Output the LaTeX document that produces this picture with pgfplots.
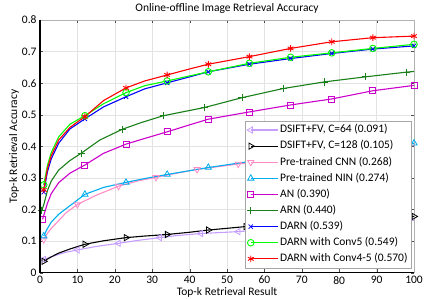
\documentclass[border=0pt]{standalone}
\usepackage{pgfplots}
\pgfplotsset{compat=1.18}
\usepackage{fontspec}
\setmainfont{Carlito}
\definecolor{lav}{rgb}{0.78,0.62,1}
\definecolor{pinkc}{rgb}{1,0.55,0.78}
\definecolor{magc}{rgb}{0.8,0,0.8}
\definecolor{dgreen}{rgb}{0.1,0.5,0.1}
\begin{document}
\begin{tikzpicture}
\begin{axis}[
  name=ax,
  scale only axis,
  width=374bp, height=252.7bp,
  xmin=0, xmax=100, ymin=0, ymax=0.8,
  xtick={0,10,...,100},
  ytick={0,0.1,...,0.8},
  yticklabel style={/pgf/number format/fixed,/pgf/number format/precision=1},
  /pgf/number format/assume math mode=true,
  font=\fontsize{11.5bp}{13.8bp}\selectfont,
  title={Online-offline Image Retrieval Accuracy},
  title style={yshift=-3bp},
  xlabel={Top-k Retrieval Result},
  ylabel={Top-k Retrieval Accuracy},
  xlabel style={yshift=3bp},
  ylabel style={yshift=-4bp},
  grid=major,
  major grid style={gray!22},
  axis line style={gray!60},
  tick align=inside,
  major tick length=3.5bp,
  tick style={black!70},
  every axis plot/.append style={line width=1.1bp},
  mark size=3.6bp,
  legend style={at={(1,0)}, anchor=south east, xshift=-3bp, yshift=4.7bp,
    draw=gray!70, fill=white, cells={anchor=west},
    font=\fontsize{11.5bp}{13.8bp}\selectfont,
    nodes={inner sep=1.8bp, text height=8.5bp, text depth=2.8bp},
    row sep=1.2bp, column sep=0bp, inner sep=1.5bp},
  legend image code/.code={\draw[mark repeat=2,mark phase=2] plot coordinates {(0bp,0bp) (13.5bp,0bp) (27bp,0bp)};},
]
% DSIFT+FV C=64
\addplot[color=lav, mark=triangle, mark options={rotate=90, solid, line width=0.8bp}, mark indices={1,5,7,9,11,12,13,14,15,16}] coordinates {
(1,0.042) (3,0.05) (5,0.058) (7,0.065) (10,0.072) (15,0.083) (21,0.093) (26,0.102) (32,0.111) (37,0.118) (43,0.124) (53,0.130) (64,0.140) (75,0.149) (86,0.157) (97,0.164) (100,0.166)};
\addlegendentry{DSIFT+FV, C=64 (0.091)}
% DSIFT+FV C=128
\addplot[color=black, mark=triangle, mark options={rotate=-90, solid, line width=0.8bp}, mark indices={1,5,7,9,11,12,13,14,15,16}] coordinates {
(1,0.036) (3,0.05) (5,0.062) (8,0.075) (12,0.090) (17,0.101) (23,0.111) (28,0.116) (34,0.121) (40,0.128) (45,0.135) (55,0.146) (67,0.155) (78,0.163) (89,0.171) (100,0.178)};
\addlegendentry{DSIFT+FV, C=128 (0.105)}
% Pre-trained CNN
\addplot[color=pinkc, mark=triangle, mark options={rotate=180, solid, line width=0.8bp}, mark indices={1,6,8,10,12,13,14,15,16,17}] coordinates {
(1,0.105) (2,0.125) (3,0.14) (5,0.165) (7,0.19) (10,0.216) (15,0.245) (21,0.274) (26,0.29) (31,0.302) (37,0.316) (42,0.327) (53,0.344) (64,0.36) (75,0.375) (86,0.389) (97,0.400) (100,0.403)};
\addlegendentry{Pre-trained CNN (0.268)}
% Pre-trained NIN
\addplot[color=cyan, mark=triangle, mark options={solid, line width=0.8bp}, mark indices={1,6,8,10,12,13,14,15,16,17}] coordinates {
(1,0.116) (2,0.14) (3,0.16) (5,0.185) (8,0.212) (12,0.248) (17,0.27) (23,0.286) (28,0.298) (34,0.311) (40,0.323) (45,0.333) (56,0.352) (67,0.368) (78,0.382) (89,0.396) (100,0.410)};
\addlegendentry{Pre-trained NIN (0.274)}
% AN
\addplot[color=magc, mark=square, mark size=3bp, mark options={solid, line width=0.8bp}, mark indices={1,6,8,10,12,13,14,15,16,17}] coordinates {
(0.7,0.169) (2,0.22) (3,0.25) (5,0.285) (8,0.315) (12,0.341) (17,0.378) (23,0.407) (28,0.425) (34,0.446) (40,0.468) (45,0.486) (56,0.509) (67,0.531) (78,0.550) (89,0.576) (100,0.593)};
\addlegendentry{AN (0.390)}
% ARN
\addplot[color=dgreen, mark=+, mark options={solid, line width=0.8bp}, mark indices={1,7,9,11,12,13,14,15,16,17}] coordinates {
(0.5,0.198) (1,0.215) (2,0.26) (3,0.29) (5,0.325) (8,0.355) (11,0.378) (16,0.42) (22,0.454) (27,0.475) (33,0.497) (44,0.523) (54,0.554) (65,0.583) (76,0.604) (87,0.620) (98,0.635) (100,0.637)};
\addlegendentry{ARN (0.440)}
% DARN
\addplot[color=blue, mark=x, mark size=3bp, mark options={solid, line width=0.8bp}, mark indices={1,6,8,10,12,13,14,15,16,17}] coordinates {
(1,0.255) (2,0.32) (3,0.36) (5,0.41) (8,0.455) (12,0.487) (17,0.525) (23,0.557) (28,0.582) (34,0.601) (40,0.620) (45,0.636) (56,0.660) (67,0.678) (78,0.694) (89,0.708) (100,0.718)};
\addlegendentry{DARN (0.539)}
% DARN with Conv5
\addplot[color=green, mark=o, mark size=3.3bp, mark options={solid, line width=0.9bp}, mark indices={1,6,8,10,12,13,14,15,16,17}] coordinates {
(1,0.278) (2,0.34) (3,0.38) (5,0.43) (8,0.47) (12,0.497) (17,0.535) (23,0.570) (28,0.592) (34,0.607) (40,0.623) (45,0.636) (56,0.663) (67,0.682) (78,0.696) (89,0.710) (100,0.723)};
\addlegendentry{DARN with Conv5 (0.549)}
% DARN with Conv4-5
\addplot[color=red, mark=asterisk, mark size=3.3bp, mark options={solid, line width=0.9bp}, mark indices={1,6,8,10,12,13,14,15,16,17}] coordinates {
(1,0.262) (2,0.33) (3,0.37) (5,0.42) (8,0.46) (12,0.494) (17,0.545) (23,0.585) (28,0.607) (34,0.626) (40,0.645) (45,0.660) (56,0.684) (67,0.710) (78,0.731) (89,0.744) (100,0.749)};
\addlegendentry{DARN with Conv4-5 (0.570)}
\end{axis}
\draw[black, line width=1.2bp] (ax.north west) -- (ax.south west) -- (ax.south east);
\pgfresetboundingbox
\path ([shift={(-40bp,-26.3bp)}]ax.south west) rectangle ([shift={(14bp,20bp)}]ax.north east);
\end{tikzpicture}
\end{document}
